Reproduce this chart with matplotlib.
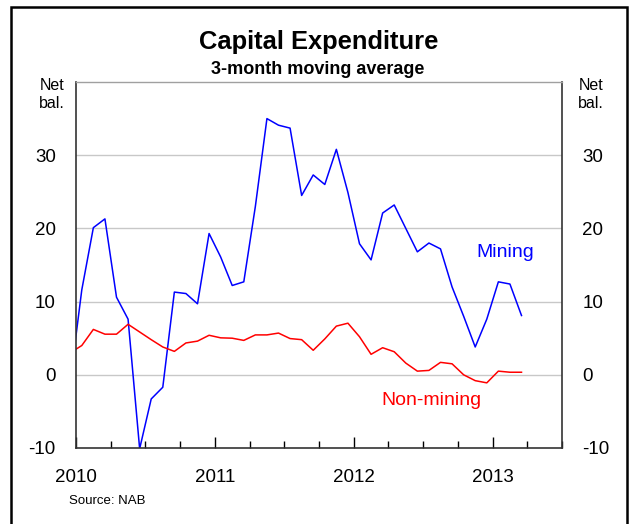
import matplotlib
matplotlib.use("Agg")
import matplotlib.pyplot as plt
from matplotlib.patches import Rectangle
import numpy as np

plt.rcParams['font.family'] = ['Liberation Sans', 'DejaVu Sans']

# Monthly data, Dec 2009 .. Mar 2013 (3-month moving average, net balance)
months = list(range(-1, 39))  # months since Jan 2010 (0 = Jan 2010)
mining = [-0.9, 11.6, 20.1, 21.3, 10.6, 7.6, -10.1, -3.3, -1.7, 11.3, 11.1, 9.7, 19.3,
          16.1, 12.2, 12.7, 23.0, 35.0, 34.1, 33.7, 24.5, 27.3, 26.0, 30.8, 24.9,
          17.9, 15.7, 22.1, 23.2, 20.0, 16.8, 18.0, 17.2, 12.0, 8.0, 3.8, 7.6,
          12.7, 12.4, 8.1]
non_mining = [3.0, 4.0, 6.2, 5.55, 5.55, 6.9, 5.85, 4.8, 3.8, 3.2, 4.35, 4.6, 5.4,
              5.05, 5.0, 4.7, 5.45, 5.45, 5.7, 4.95, 4.8, 3.35, 4.9, 6.65, 7.05,
              5.2, 2.8, 3.7, 3.15, 1.6, 0.5, 0.6, 1.7, 1.5, 0.0, -0.8, -1.1,
              0.5, 0.35, 0.35]
year_labels = ['2010', '2011', '2012', '2013']
y_ticks = [-10, 0, 10, 20, 30]

fig = plt.figure(figsize=(6.3, 5.24), dpi=100)
ax = fig.add_axes([76/630, 1-448/524, (562-76)/630, (448-82)/524])

x = np.array(months) + 0.5
ax.plot(x, mining, color='#0000ff', lw=1.1, clip_on=True)
ax.plot(x, non_mining, color='#ff0000', lw=1.1, clip_on=True)

ax.set_xlim(0, 42)
ax.set_ylim(-10, 40)

for v in [0, 10, 20, 30]:
    ax.axhline(v, color='#c8c8c8', lw=1.0, zorder=0)

ax.set_yticks(y_ticks)
ax.set_yticklabels([str(v) for v in y_ticks])
ax.tick_params(axis='y', which='both', left=False, right=False,
               labelleft=True, labelright=True, labelsize=13.5, pad=11)

ax.set_xticks([0, 12, 24, 36])
ax.set_xticklabels(year_labels)
ax.set_xticks(np.arange(0, 43, 3), minor=True)
ax.tick_params(axis='x', which='major', direction='in', length=8, width=1.0,
               labelsize=13.5, pad=15, top=False)
ax.tick_params(axis='x', which='minor', direction='in', length=5, width=1.0, top=False)

for s in ['left', 'bottom', 'right']:
    ax.spines[s].set_color('#333333')
    ax.spines[s].set_linewidth(1.2)
ax.spines['top'].set_color('#a0a0a0')
ax.spines['top'].set_linewidth(1.0)

ax.text(37.1, 16.7, 'Mining', color='#0000ff', fontsize=14, ha='center', va='center')
ax.text(30.7, -3.5, 'Non-mining', color='#ff0000', fontsize=14, ha='center', va='center')

fig.text(319/630, 1-42/524, 'Capital Expenditure', fontsize=18.4, fontweight='bold',
         ha='center', va='center')
fig.text(318/630, 1-69/524, '3-month moving average', fontsize=13, fontweight='bold',
         ha='center', va='center')
for xc in (52, 591):
    fig.text(xc/630, 1-85/524, 'Net', fontsize=11.5, ha='center', va='center')
    fig.text(xc/630, 1-103/524, 'bal.', fontsize=11.5, ha='center', va='center')
fig.text(69/630, 1-501/524, 'Source: NAB', fontsize=9.5, ha='left', va='center')

fig.patches.append(Rectangle((11/630, -0.05), (627-11)/630, 1.05 - 7/524,
                             transform=fig.transFigure, fill=False,
                             edgecolor='black', lw=1.8))

fig.savefig('out.png', dpi=100)
